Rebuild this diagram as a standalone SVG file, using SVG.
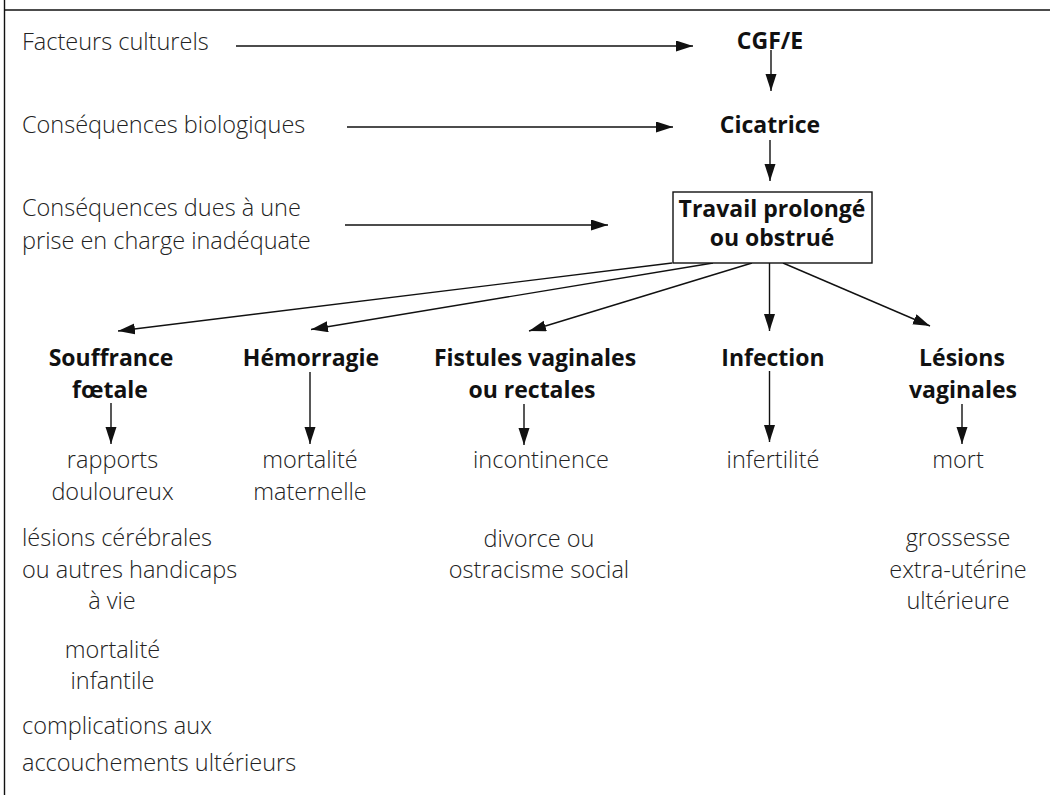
<svg xmlns="http://www.w3.org/2000/svg" width="1050" height="795" viewBox="0 0 1050 795">
<style>
.lt{font-family:"Open Sans","Liberation Sans",sans-serif;font-weight:300;font-size:23.5px;fill:#222}
.bd{font-family:"Open Sans","Liberation Sans",sans-serif;font-weight:700;font-size:23px;fill:#111}
.c{text-anchor:middle}
.ln{stroke:#111;stroke-width:1.4;fill:none}
</style>
<defs>
<marker id="ah" markerUnits="userSpaceOnUse" markerWidth="18" markerHeight="12" refX="17" refY="5.5" orient="auto">
<path d="M0,0 L17,5.5 L0,11 z" fill="#111"/>
</marker>
</defs>
<rect width="1050" height="795" fill="#fff"/>
<g id="frame">
<line x1="4.5" y1="0" x2="4.5" y2="795" class="ln"/>
<line x1="4" y1="10" x2="1050" y2="10" class="ln"/>
</g>
<g id="connectors">
<line x1="236" y1="46" x2="693" y2="46" class="ln" marker-end="url(#ah)"/>
<line x1="347" y1="127" x2="673" y2="127" class="ln" marker-end="url(#ah)"/>
<line x1="345" y1="225" x2="608" y2="225" class="ln" marker-end="url(#ah)"/>
<line x1="771" y1="50" x2="771" y2="91" class="ln" marker-end="url(#ah)"/>
<line x1="770" y1="140" x2="770" y2="181" class="ln" marker-end="url(#ah)"/>
<line x1="672" y1="263" x2="118" y2="331" class="ln" marker-end="url(#ah)"/>
<line x1="713" y1="263" x2="311" y2="329.5" class="ln" marker-end="url(#ah)"/>
<line x1="752" y1="263" x2="529" y2="331" class="ln" marker-end="url(#ah)"/>
<line x1="769.5" y1="263" x2="769.5" y2="331" class="ln" marker-end="url(#ah)"/>
<line x1="783" y1="263" x2="930" y2="326" class="ln" marker-end="url(#ah)"/>
<line x1="111" y1="403" x2="111" y2="444" class="ln" marker-end="url(#ah)"/>
<line x1="310" y1="372" x2="310" y2="444" class="ln" marker-end="url(#ah)"/>
<line x1="524" y1="404" x2="524" y2="445" class="ln" marker-end="url(#ah)"/>
<line x1="769.5" y1="371" x2="769.5" y2="442" class="ln" marker-end="url(#ah)"/>
<line x1="962" y1="404" x2="962" y2="444" class="ln" marker-end="url(#ah)"/>
</g>
<g id="left-labels">
<text class="lt" x="22" y="50">Facteurs culturels</text>
<text class="lt" x="22" y="133">Conséquences biologiques</text>
<text class="lt" x="22" y="216">Conséquences dues à une</text>
<text class="lt" x="22" y="249">prise en charge inadéquate</text>
</g>
<g id="cgfe"><text class="bd c" x="770" y="49">CGF/E</text></g>
<g id="cicatrice"><text class="bd c" x="770" y="133">Cicatrice</text></g>
<g id="travail">
<rect x="673" y="192" width="199" height="71" fill="#fff" stroke="#111" stroke-width="1.4"/>
<text class="bd c" x="772" y="217">Travail prolongé</text>
<text class="bd c" x="772" y="246">ou obstrué</text>
</g>
<g id="souffrance">
<text class="bd c" x="111" y="366">Souffrance</text>
<text class="bd c" x="110" y="398">fœtale</text>
</g>
<g id="hemorragie"><text class="bd c" x="311" y="366">Hémorragie</text></g>
<g id="fistules">
<text class="bd c" x="535" y="366">Fistules vaginales</text>
<text class="bd c" x="532" y="398">ou rectales</text>
</g>
<g id="infection"><text class="bd c" x="773" y="366">Infection</text></g>
<g id="lesions">
<text class="bd c" x="962" y="366">Lésions</text>
<text class="bd c" x="963" y="398">vaginales</text>
</g>
<g id="souffrance-effects">
<text class="lt c" x="112.5" y="468">rapports</text>
<text class="lt c" x="112.5" y="500">douloureux</text>
<text class="lt" x="22" y="546">lésions cérébrales</text>
<text class="lt" x="22" y="578">ou autres handicaps</text>
<text class="lt c" x="112" y="609">à vie</text>
<text class="lt c" x="112.5" y="658">mortalité</text>
<text class="lt c" x="112.5" y="689">infantile</text>
<text class="lt" x="22" y="734">complications aux</text>
<text class="lt" x="22" y="771">accouchements ultérieurs</text>
</g>
<g id="hemorragie-effects">
<text class="lt c" x="310" y="468">mortalité</text>
<text class="lt c" x="310" y="500">maternelle</text>
</g>
<g id="fistules-effects">
<text class="lt c" x="541" y="468">incontinence</text>
<text class="lt c" x="539" y="547">divorce ou</text>
<text class="lt c" x="539" y="578">ostracisme social</text>
</g>
<g id="infection-effects"><text class="lt c" x="773" y="468">infertilité</text></g>
<g id="lesions-effects">
<text class="lt c" x="958" y="468">mort</text>
<text class="lt c" x="958" y="546">grossesse</text>
<text class="lt c" x="958" y="578">extra-utérine</text>
<text class="lt c" x="958" y="609">ultérieure</text>
</g>
</svg>
